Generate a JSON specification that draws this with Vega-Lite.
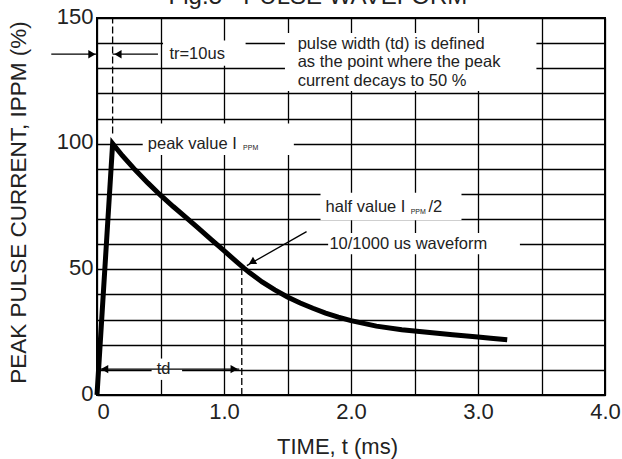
{
  "$schema": "https://vega.github.io/schema/vega-lite/v6.json",
  "width": 508,
  "height": 377,
  "autosize": {"type": "none"},
  "padding": {"left": 97, "top": 18, "right": 17, "bottom": 64},
  "background": "white",
  "datasets": {
    "heading": [{"x": 1.74, "y": 155.6, "text": "Fig.5 - PULSE WAVEFORM"}],
    "wave": [
      {"x": 0, "y": 0}, {"x": 0.123, "y": 100}, {"x": 0.2, "y": 95.2}, {"x": 0.3, "y": 89.6},
      {"x": 0.4, "y": 84.4}, {"x": 0.5, "y": 79.5}, {"x": 0.6, "y": 75.0}, {"x": 0.7, "y": 70.7},
      {"x": 0.8, "y": 66.3}, {"x": 0.9, "y": 61.8}, {"x": 1.0, "y": 57.4}, {"x": 1.1, "y": 53.0},
      {"x": 1.157, "y": 50.5}, {"x": 1.2, "y": 48.7}, {"x": 1.3, "y": 45.0}, {"x": 1.4, "y": 41.8},
      {"x": 1.5, "y": 39.0}, {"x": 1.6, "y": 36.6}, {"x": 1.7, "y": 34.5}, {"x": 1.8, "y": 32.6},
      {"x": 1.9, "y": 31.0}, {"x": 2.0, "y": 29.6}, {"x": 2.2, "y": 27.4}, {"x": 2.4, "y": 26.0},
      {"x": 2.5, "y": 25.5}, {"x": 2.6, "y": 25.0}, {"x": 2.8, "y": 24.0}, {"x": 3.0, "y": 23.1},
      {"x": 3.1, "y": 22.6}, {"x": 3.23, "y": 22.0}
    ],
    "boxes": [
      {"x": 0.52, "x2": 1.17, "y": 131, "y2": 141},
      {"x": 1.48, "x2": 3.46, "y": 121, "y2": 144},
      {"x": 0.36, "x2": 1.55, "y": 95.5, "y2": 108},
      {"x": 1.76, "x2": 2.87, "y": 69.5, "y2": 80.5},
      {"x": 1.82, "x2": 3.33, "y": 56, "y2": 64.5},
      {"x": 0.43, "x2": 0.67, "y": 6, "y2": 14.5}
    ],
    "dashed": [
      {"x": 0.123, "x2": 0.123, "y": 104, "y2": 150},
      {"x": 1.14, "x2": 1.14, "y": 0, "y2": 50}
    ],
    "arrows": [
      {"x": -0.36, "x2": 0, "y": 135.6, "y2": 135.6},
      {"x": 0.123, "x2": 0.48, "y": 135.6, "y2": 135.6},
      {"x": 0.02, "x2": 1.12, "y": 10.3, "y2": 10.3},
      {"x": 1.65, "x2": 1.18, "y": 65, "y2": 51.5}
    ],
    "heads": [
      {"x": -0.04, "y": 135.6, "shape": "triangle-right", "angle": 0},
      {"x": 0.165, "y": 135.6, "shape": "triangle-left", "angle": 0},
      {"x": 0.06, "y": 10.3, "shape": "triangle-left", "angle": 0},
      {"x": 1.08, "y": 10.3, "shape": "triangle-right", "angle": 0},
      {"x": 1.22, "y": 52.8, "shape": "triangle-up", "angle": 240}
    ],
    "texts": [
      {"x": 0.57, "y": 135.6, "text": "tr=10us"},
      {"x": 1.58, "y": 139.5, "text": "pulse width (td) is defined"},
      {"x": 1.58, "y": 132.3, "text": "as the point where the peak"},
      {"x": 1.58, "y": 124.8, "text": "current decays to 50 %"},
      {"x": 0.40, "y": 100, "text": "peak value I"},
      {"x": 1.8, "y": 74.7, "text": "half value I"},
      {"x": 2.61, "y": 74.7, "text": "/2"},
      {"x": 1.83, "y": 60, "text": "10/1000 us waveform"},
      {"x": 0.47, "y": 10.3, "text": "td"}
    ],
    "subs": [
      {"x": 1.15, "y": 98.2, "text": "PPM"},
      {"x": 2.47, "y": 73, "text": "PPM"}
    ]
  },
  "encoding": {
    "x": {"field": "x", "type": "quantitative", "scale": {"domain": [0, 4], "nice": false, "zero": false},
      "axis": {"values": [0, 0.5, 1, 1.5, 2, 2.5, 3, 3.5, 4], "title": "TIME, t (ms)",
        "labelExpr": "datum.value % 1 === 0 ? (datum.value === 0 ? '0' : format(datum.value, '.1f')) : ''",
        "labelAlign": {"condition": {"test": "datum.value === 0", "value": "left"}, "value": "center"},
        "labelFlush": false, "labelOverlap": false, "labelPadding": 6, "titlePadding": 14, "titleX": 240}},
    "y": {"field": "y", "type": "quantitative", "scale": {"domain": [0, 150], "nice": false},
      "axis": {"values": [0, 10, 20, 30, 40, 50, 60, 70, 80, 90, 100, 110, 120, 130, 140, 150], "title": "PEAK PULSE CURRENT, IPPM (%)",
        "labelExpr": "datum.value % 50 === 0 ? datum.label : ''",
        "labelOverlap": false, "labelPadding": 4, "labelOffset": -2, "titlePadding": 26, "titleY": 184, "titleFontSize": 22.5}}
  },
  "layer": [
    {
      "data": {"name": "wave"},
      "mark": {"type": "line", "color": "black", "strokeWidth": 5, "interpolate": "linear", "strokeCap": "butt", "strokeJoin": "miter"}
    },
    {
      "data": {"name": "boxes"},
      "mark": {"type": "rect", "color": "white"},
      "encoding": {"x2": {"field": "x2"}, "y2": {"field": "y2"}}
    },
    {
      "data": {"name": "dashed"},
      "mark": {"type": "rule", "color": "black", "strokeWidth": 1.3, "strokeDash": [7, 3]},
      "encoding": {"x2": {"field": "x2"}, "y2": {"field": "y2"}}
    },
    {
      "data": {"name": "arrows"},
      "mark": {"type": "rule", "color": "black", "strokeWidth": 1.3, "clip": false},
      "encoding": {"x2": {"field": "x2"}, "y2": {"field": "y2"}}
    },
    {
      "data": {"name": "heads"},
      "mark": {"type": "point", "filled": true, "color": "black", "opacity": 1, "size": 70, "clip": false},
      "encoding": {
        "shape": {"field": "shape", "type": "nominal", "scale": null, "legend": null},
        "angle": {"field": "angle", "type": "quantitative", "scale": null}
      }
    },
    {
      "data": {"name": "texts"},
      "mark": {"type": "text", "align": "left", "baseline": "middle", "font": "Liberation Sans", "fontSize": 16.5, "color": "#222"},
      "encoding": {"text": {"field": "text"}}
    },
    {
      "data": {"name": "subs"},
      "mark": {"type": "text", "align": "left", "baseline": "middle", "font": "Liberation Sans", "fontSize": 7, "color": "#222"},
      "encoding": {"text": {"field": "text"}}
    },
    {
      "data": {"name": "heading"},
      "mark": {"type": "text", "align": "center", "baseline": "alphabetic", "font": "Liberation Sans", "fontSize": 24, "color": "#222", "clip": false},
      "encoding": {"text": {"field": "text"}}
    }
  ],
  "config": {
    "view": {"stroke": "black", "strokeWidth": 2},
    "axis": {
      "grid": true, "gridColor": "black", "gridWidth": 1.3, "gridOpacity": 1,
      "ticks": false, "domain": false,
      "labelFont": "Liberation Sans", "labelFontSize": 22, "labelColor": "#222",
      "titleFont": "Liberation Sans", "titleFontSize": 22, "titleFontWeight": "normal", "titleColor": "#222"
    }
  }
}
